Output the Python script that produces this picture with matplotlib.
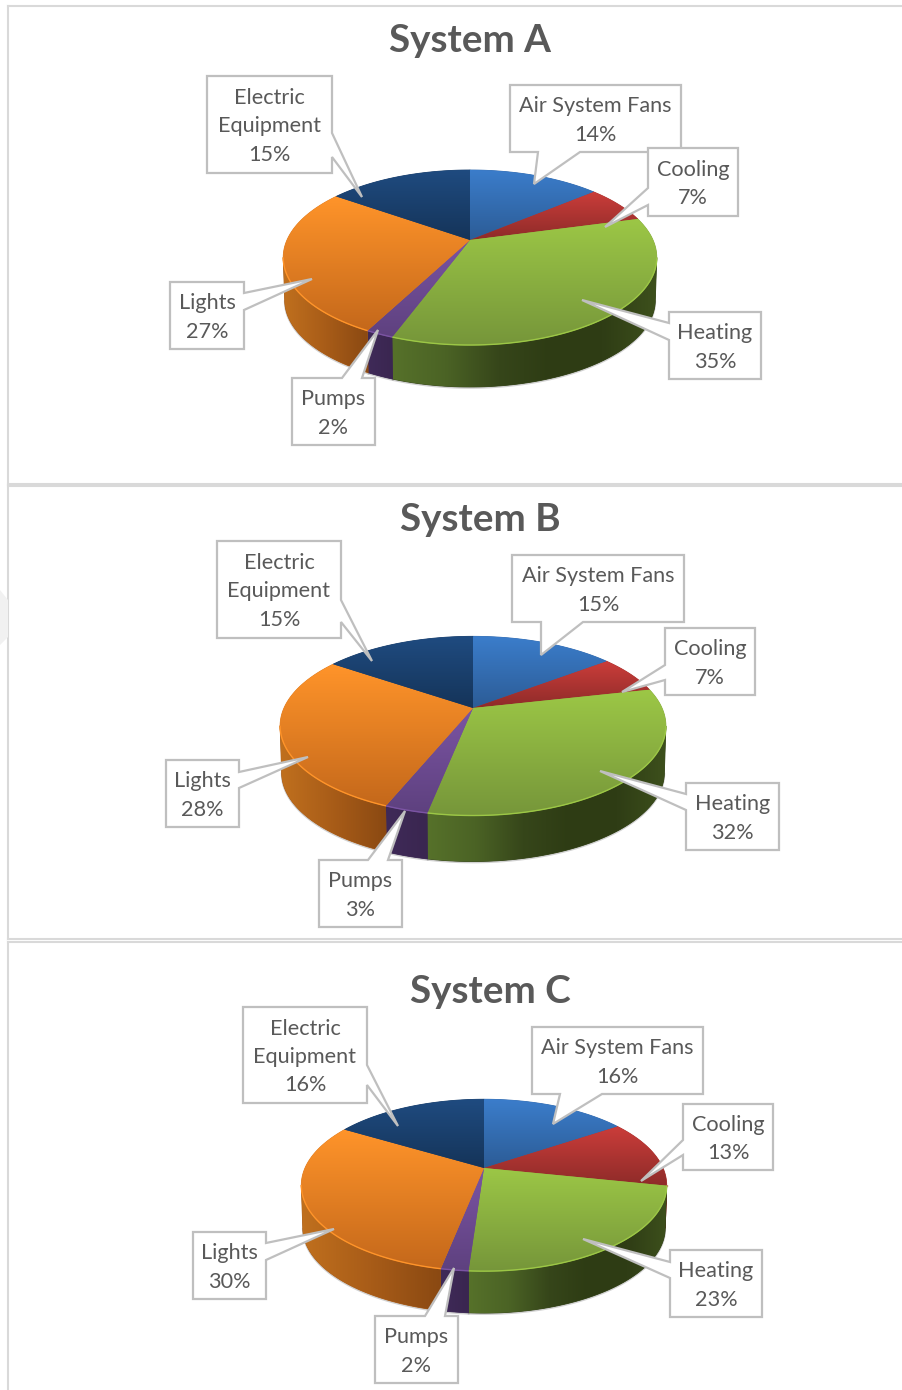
import matplotlib
matplotlib.use('Agg')
import matplotlib.pyplot as plt
import numpy as np
from matplotlib.colors import LinearSegmentedColormap
from matplotlib.patches import Polygon

categories = ['Air System Fans', 'Cooling', 'Heating', 'Pumps', 'Lights', 'Electric\nEquipment']
system_a = [14, 7, 35, 2, 27, 15]
system_b = [15, 7, 32, 3, 28, 15]
system_c = [16, 13, 23, 2, 30, 16]

# colours of the top face, light to dark
top_colors = [('#3b7dcb', '#2c5c96'), ('#cb3d3a', '#8e2b29'), ('#9cc746', '#76963a'),
              ('#7b54a3', '#5e417f'), ('#ff942a', '#c4681b'), ('#1f4b80', '#153459')]
# colours of the side wall, left to right
side_colors = [('#1f4b80', '#1f4b80'), ('#7c2321', '#a32f2c'),
               ('#56712a', '#4b6325', '#36461a', '#2e3c14', '#2f3d15', '#3d501c'),
               ('#3f2a58', '#3a2650'), ('#c0701e', '#a85c18', '#8a4912'), ('#1f4b80', '#1f4b80')]

W, H = 903, 1390
K = 0.2  # perspective of the disc


def disc_point(frac, geo):
    """Fraction of the pie (clockwise from top) to a pixel on the rim."""
    frac = np.asarray(frac)
    # excel's 3d view drags the front slices a little to the right
    a = 2 * np.pi * (frac - geo['twist'] * np.sin(np.pi * frac))
    x, y = np.sin(a), np.cos(a)
    w = 1 + K * y
    return geo['cx'] + geo['rx'] * x / w, geo['cy'] - geo['ry'] * y / w


def gradient_fill(ax, xs, ys, colors, vertical, zorder):
    xs, ys = np.asarray(xs), np.asarray(ys)
    cmap = LinearSegmentedColormap.from_list('g', colors)
    mid = cmap(0.5)
    poly = Polygon(np.column_stack([xs, ys]), closed=True, facecolor=mid, edgecolor=mid,
                   lw=0.6, zorder=zorder)
    ax.add_patch(poly)
    ramp = np.linspace(0, 1, 128)
    ramp = ramp.reshape(-1, 1) if vertical else ramp.reshape(1, -1)
    im = ax.imshow(ramp, cmap=cmap, aspect='auto', origin='upper', zorder=zorder + 0.1,
                   extent=[xs.min(), xs.max() + 0.01, ys.max() + 0.01, ys.min()], interpolation='bilinear')
    im.set_clip_path(poly)


def draw_pie(ax, values, geo):
    edges = np.concatenate([[0], np.cumsum(values)]) / np.sum(values)
    scale = 0.992
    # where the rim is widest: the wall is only seen between these two
    wall_start = 0.282 + 0.8 * geo['twist']
    wall_end = 0.718 + 0.8 * geo['twist']

    for i in range(len(values)):
        fr = np.linspace(edges[i], edges[i + 1], 80)
        px, py = disc_point(fr, geo)

        # side wall, only the part turned towards the viewer
        f0, f1 = max(edges[i], wall_start), min(edges[i + 1], wall_end)
        if f1 > f0:
            wx, wy = disc_point(np.linspace(f0, f1, 80), geo)
            front = geo['cy'] + geo['ry'] / (1 - K)
            bx = geo['cx'] + (wx - geo['cx']) * scale
            by = geo['cy'] + (wy - geo['cy']) * scale + geo['depth'] + (1 - scale) * (front - geo['cy'])
            gradient_fill(ax, np.r_[wx, bx[::-1]], np.r_[wy, by[::-1]], side_colors[i], False, 2)
            ax.plot(bx, by + 1, color='#9a9a9a', lw=1.2, alpha=0.45, zorder=1.5)

        # top face
        gradient_fill(ax, np.r_[geo['cx'], px], np.r_[geo['cy'], py], top_colors[i], True, 3)
        if f1 > f0:
            ax.plot(wx, wy, color=top_colors[i][0], lw=1.0, zorder=4, solid_capstyle='butt')


def draw_callout(ax, text, pct, c):
    x0, y0, x1, y1 = c['box']
    a, b = c['base']
    tip = c['tip']
    if c['edge'] == 'top':
        pts = [(x0, y0), (a, y0), tip, (b, y0), (x1, y0), (x1, y1), (x0, y1)]
    elif c['edge'] == 'right':
        pts = [(x0, y0), (x1, y0), (x1, a), tip, (x1, b), (x1, y1), (x0, y1)]
    elif c['edge'] == 'bottom':
        pts = [(x0, y0), (x1, y0), (x1, y1), (b, y1), tip, (a, y1), (x0, y1)]
    else:
        pts = [(x0, y0), (x1, y0), (x1, y1), (x0, y1), (x0, b), tip, (x0, a)]
    ax.add_patch(Polygon(pts, closed=True, facecolor='white', edgecolor='#bfbfbf', lw=1.6,
                         zorder=c['z'], joinstyle='miter'))
    ax.text((x0 + x1) / 2, (y0 + y1) / 2 + 2, text + '\n' + pct + '%', ha='center', va='center',
            fontsize=15.6, color='#595959', family='Lato', linespacing=1.52, zorder=c['z'] + 0.1)


# callout order follows categories: box, edge the pointer leaves from, base of pointer, tip
callouts_a = [
    dict(box=(510, 85, 681, 152), edge='bottom', base=(538, 580), tip=(534, 184), z=5),
    dict(box=(648, 148, 738, 216), edge='left', base=(188, 205), tip=(605, 227), z=6),
    dict(box=(669, 312, 761, 379), edge='left', base=(323, 340), tip=(582, 300), z=5),
    dict(box=(292, 378, 375, 445), edge='top', base=(342, 362), tip=(378, 330), z=5),
    dict(box=(170, 282, 244, 349), edge='right', base=(293, 310), tip=(312, 279), z=5),
    dict(box=(207, 76, 332, 173), edge='right', base=(133, 157), tip=(362, 197), z=5),
]
callouts_b = [
    dict(box=(512, 555, 684, 622), edge='bottom', base=(541, 583), tip=(541, 655), z=5),
    dict(box=(665, 628, 755, 695), edge='left', base=(665, 680), tip=(622, 692), z=6),
    dict(box=(686, 783, 779, 850), edge='left', base=(794, 810), tip=(600, 771), z=5),
    dict(box=(319, 860, 402, 927), edge='top', base=(368, 388), tip=(405, 811), z=5),
    dict(box=(166, 760, 239, 827), edge='right', base=(772, 788), tip=(308, 757), z=5),
    dict(box=(217, 541, 341, 638), edge='right', base=(600, 622), tip=(372, 661), z=5),
]
callouts_c = [
    dict(box=(532, 1027, 703, 1094), edge='bottom', base=(560, 602), tip=(553, 1124), z=5),
    dict(box=(683, 1104, 773, 1170), edge='left', base=(1140, 1155), tip=(641, 1181), z=6),
    dict(box=(670, 1250, 762, 1317), edge='left', base=(1262, 1278), tip=(583, 1239), z=5),
    dict(box=(375, 1316, 458, 1383), edge='top', base=(425, 445), tip=(454, 1268), z=5),
    dict(box=(193, 1232, 266, 1299), edge='right', base=(1243, 1260), tip=(334, 1229), z=5),
    dict(box=(243, 1007, 367, 1103), edge='right', base=(1065, 1085), tip=(398, 1126), z=5),
]

panels = [
    dict(title='System A', values=system_a, callouts=callouts_a, top=6, bottom=484, title_x=470, title_y=40,
         geo=dict(cx=470, cy=240, rx=183, ry=84, depth=42, twist=0.004)),
    dict(title='System B', values=system_b, callouts=callouts_b, top=486, bottom=939, title_x=480, title_y=520,
         geo=dict(cx=473, cy=708, rx=189, ry=86, depth=46, twist=0.009)),
    dict(title='System C', values=system_c, callouts=callouts_c, top=942, bottom=1396, title_x=490, title_y=992,
         geo=dict(cx=484, cy=1168, rx=179, ry=82.5, depth=42, twist=0.009)),
]


def main():
    fig = plt.figure(figsize=(W / 100, H / 100), dpi=100, facecolor='white')
    # faint watermark showing at the left margin
    fig.add_artist(Polygon([(0, 1 - 590 / H), (8 / W, 1 - 600 / H), (8 / W, 1 - 637 / H), (0, 1 - 645 / H)],
                           closed=True, transform=fig.transFigure, facecolor='#f1f1f1', edgecolor='none'))
    left, right = 8, 910
    for p in panels:
        ax = fig.add_axes([left / W, 1 - p['bottom'] / H, (right - left) / W, (p['bottom'] - p['top']) / H])
        ax.patch.set_alpha(0)
        draw_pie(ax, p['values'], p['geo'])
        for name, val, c in zip(categories, p['values'], p['callouts']):
            draw_callout(ax, name, str(val), c)
        ax.text(p['title_x'], p['title_y'], p['title'], ha='center', va='center', fontsize=27.8,
                fontweight='bold', color='#595959', family='Lato', zorder=7)
        ax.set_xlim(left, right)
        ax.set_ylim(p['bottom'], p['top'])
        ax.set_xticks([])
        ax.set_yticks([])
        for s in ax.spines.values():
            s.set_color('#d9d9d9')
            s.set_linewidth(1.5)
    fig.savefig('out.png', dpi=100)


if __name__ == '__main__':
    main()
